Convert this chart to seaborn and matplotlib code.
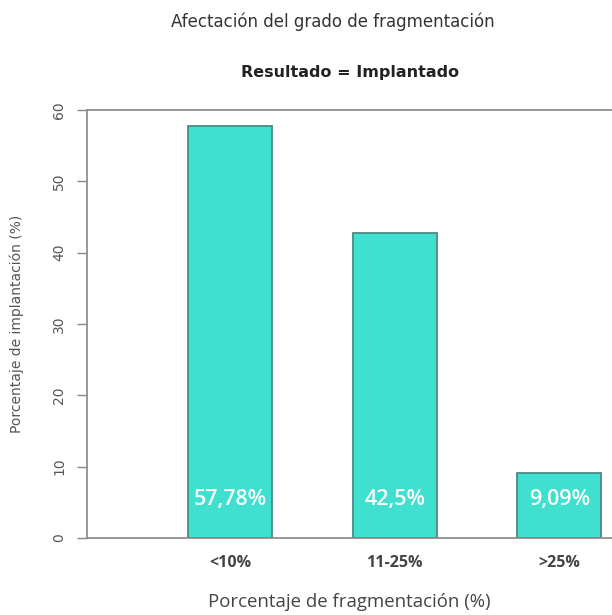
import matplotlib
matplotlib.use("Agg")
import matplotlib.pyplot as plt
import seaborn as sns
import pandas as pd

# Data
categorias = ['<10%', '11-25%', '>25%']
porcentajes = [57.78, 42.8, 9.09]
etiquetas = ['57,78%', '42,5%', '9,09%']
y_ticks = [0, 10, 20, 30, 40, 50, 60]

df = pd.DataFrame({'grupo': categorias, 'pct': porcentajes})

sns.set_style('white')
plt.rcParams['font.family'] = ['DejaVu Sans']

fig = plt.figure(figsize=(6.12, 6.15), dpi=100)
ax = fig.add_axes([87 / 612, 1 - 538 / 615, 1 - 87 / 612, 428 / 615])

sns.barplot(x='grupo', y='pct', data=df, color='turquoise', saturation=1,
            width=0.51, edgecolor='#4a8a84', linewidth=1.3, ax=ax)

for i, txt in enumerate(etiquetas):
    ax.text(i, 5.4, txt, ha='center', va='center', color='white',
            fontsize=15.5, fontfamily='Open Sans', fontweight='semibold')

ax.set_xlim(-0.87, 2.32)
ax.set_ylim(0, 60)
ax.set_yticks(y_ticks)
ax.set_yticklabels([str(t) for t in y_ticks], rotation=90, va='center',
                   fontsize=10, color='#555555')
ax.tick_params(axis='y', length=7, width=1, color='#888888', pad=8, left=True)
ax.tick_params(axis='x', length=0, pad=12, labelsize=11.5, labelcolor='#444444')
for lab in ax.get_xticklabels():
    lab.set_fontfamily('Open Sans')
    lab.set_fontweight('bold')

for side in ['left', 'top', 'bottom']:
    ax.spines[side].set_color('#888888')
    ax.spines[side].set_linewidth(1.2)
ax.spines['right'].set_visible(False)

ax.set_xlabel('Porcentaje de fragmentación (%)', fontsize=13.4,
              color='#444444', fontfamily='Open Sans', labelpad=16)
ax.set_ylabel('Porcentaje de implantación (%)', fontsize=10,
              color='#555555', labelpad=20)

fig.text(0.543, 1 - 22 / 615, 'Afectación del grado de fragmentación',
         ha='center', va='center', fontsize=12, color='#333333')
fig.text(0.572, 1 - 72 / 615, 'Resultado = Implantado', ha='center',
         va='center', fontsize=11.5, fontweight='bold', color='#222222')

fig.savefig('out.png', dpi=100)
